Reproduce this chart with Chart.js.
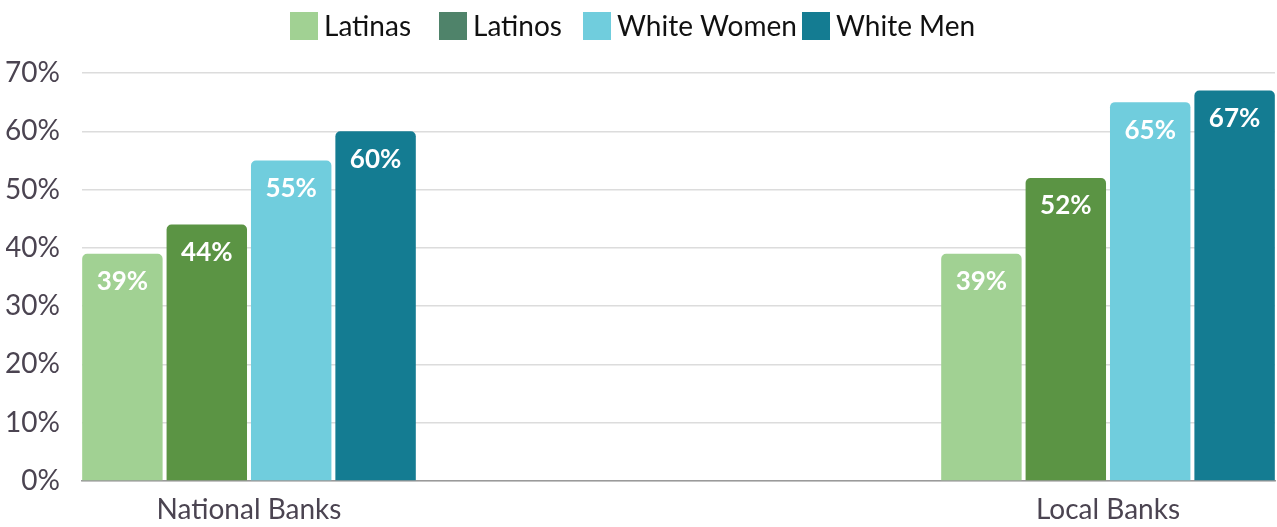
<!DOCTYPE html>
<html>
<head>
<meta charset="utf-8">
<script src="https://cdn.jsdelivr.net/npm/chart.js@4"></script>
<style>
  html, body { margin: 0; padding: 0; background: #fff; }
  #wrap { width: 1277px; height: 527px; }
</style>
</head>
<body>
<div id="wrap"><canvas id="chart"></canvas></div>
<script>
// Dados do gráfico
const categories = ['National Banks', 'Local Banks'];
const seriesNames = ['Latinas', 'Latinos', 'White Women', 'White Men'];
const latinas = [39, 39];
const latinos = [44, 52];
const whiteWomen = [55, 65];
const whiteMen = [60, 67];
const yTicks = [0, 10, 20, 30, 40, 50, 60, 70];

// Cores das barras e da legenda (Latinos tem cor diferente na legenda)
const barColors = ['#a1d193', '#5b9444', '#70cddd', '#147c92'];
const legendColors = ['#a1d193', '#4f836a', '#70cddd', '#147c92'];
// Posição horizontal de cada item da legenda (px)
const legendX = [290, 439, 583, 802];

const FONT = 'Lato, "Source Sans Pro", sans-serif';

const seriesValues = [latinas, latinos, whiteWomen, whiteMen];

const datasets = seriesNames.map((name, i) => ({
    label: name,
    data: seriesValues[i].map((v, j) => ({ x: j, y: v })),
    backgroundColor: barColors[i],
    borderRadius: 5,
    borderSkipped: 'bottom',
    categoryPercentage: 0.393,
    barPercentage: 0.953
}));

// Legenda desenhada à mão
const legendPlugin = {
    id: 'customLegend',
    afterDraw(chart) {
        const ctx = chart.ctx;
        const box = 28;
        ctx.save();
        ctx.font = '28px ' + FONT;
        ctx.textBaseline = 'middle';
        ctx.textAlign = 'left';
        seriesNames.forEach((name, i) => {
            ctx.fillStyle = legendColors[i];
            ctx.fillRect(legendX[i], 12, box, box);
            ctx.fillStyle = '#111';
            ctx.fillText(name, legendX[i] + box + 6, 27);
        });
        ctx.restore();
    }
};

// Rótulos de valor dentro das barras
const valueLabels = {
    id: 'valueLabels',
    afterDatasetsDraw(chart) {
        const ctx = chart.ctx;
        ctx.save();
        ctx.font = 'bold 26px ' + FONT;
        ctx.fillStyle = '#fff';
        ctx.textAlign = 'center';
        ctx.textBaseline = 'middle';
        chart.data.datasets.forEach((ds, i) => {
            const meta = chart.getDatasetMeta(i);
            meta.data.forEach((bar, j) => {
                ctx.fillText(ds.data[j].y + '%', bar.x, bar.y + 28);
            });
        });
        ctx.restore();
    }
};

new Chart(document.getElementById('chart'), {
    type: 'bar',
    data: { datasets: datasets },
    options: {
        responsive: true,
        maintainAspectRatio: false,
        animation: false,
        layout: { padding: { top: 73, right: 2, left: 6, bottom: 0 } },
        plugins: {
            legend: { display: false },
            tooltip: { enabled: false }
        },
        scales: {
            x: {
                type: 'linear',
                offset: false,
                min: -0.1944,
                max: 1.1944,
                afterBuildTicks: (scale) => {
                    scale.ticks = categories.map((c, i) => ({ value: i }));
                },
                afterFit: (scale) => { scale.height = 46; scale.paddingLeft = 0; scale.paddingRight = 0; },
                ticks: {
                    callback: (v) => categories[v],
                    color: '#4b4451',
                    font: { family: FONT, size: 28 },
                    padding: 12,
                    maxRotation: 0,
                    autoSkip: false
                },
                grid: { display: false, drawTicks: false, offset: false },
                border: { color: '#9a9a9a', width: 1.5 }
            },
            y: {
                min: 0,
                max: 70,
                afterBuildTicks: (scale) => {
                    scale.ticks = yTicks.map(v => ({ value: v }));
                },
                afterFit: (scale) => { scale.width = 76; },
                ticks: {
                    callback: (v) => v + '%',
                    color: '#4b4451',
                    font: { family: FONT, size: 28 },
                    padding: 22
                },
                grid: { color: '#dcdcdc', lineWidth: 1.5, drawTicks: false },
                border: { display: false }
            }
        }
    },
    plugins: [legendPlugin, valueLabels]
});
</script>
</body>
</html>
